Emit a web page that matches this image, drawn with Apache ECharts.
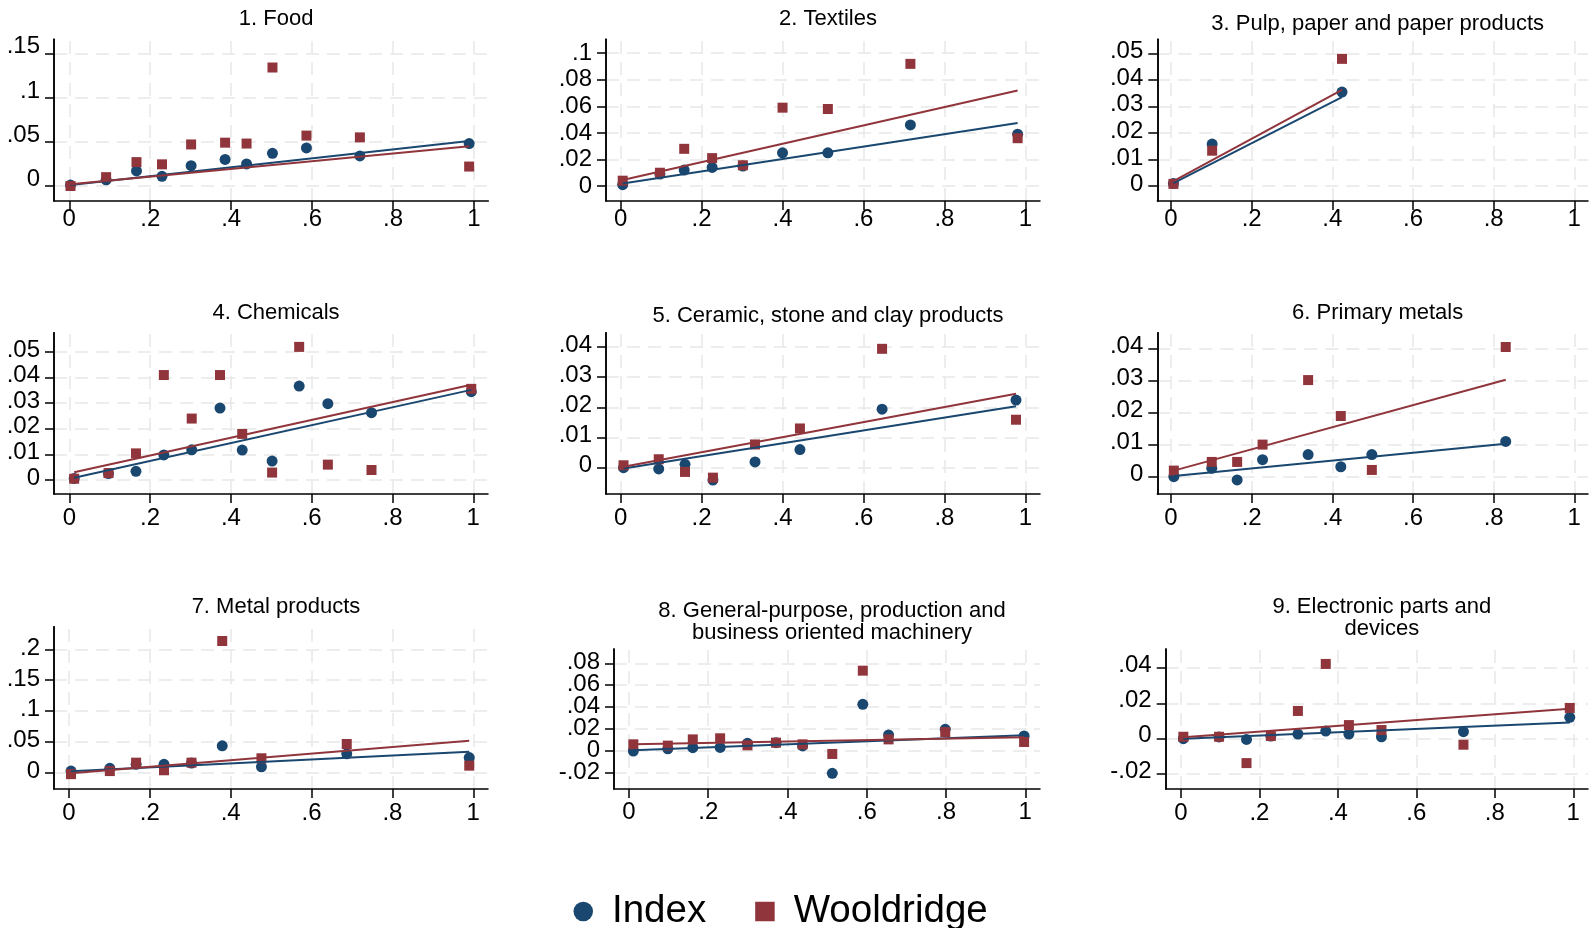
<!DOCTYPE html>
<html>
<head>
<meta charset="utf-8">
<script src="https://cdn.jsdelivr.net/npm/echarts@6/dist/echarts.min.js"></script>
<style>
html,body{margin:0;padding:0;background:#fff;}
#chart{width:1595px;height:928px;}
</style>
</head>
<body>
<div id="chart"></div>
<script>
// ---------- DATA ----------
const titles = [
  '1. Food',
  '2. Textiles',
  '3. Pulp, paper and paper products',
  '4. Chemicals',
  '5. Ceramic, stone and clay products',
  '6. Primary metals',
  '7. Metal products',
  '8. General-purpose, production and\nbusiness oriented machinery',
  '9. Electronic parts and\ndevices'
];
const seriesNames = ['Index', 'Wooldridge'];
const xTicks = [0, 0.2, 0.4, 0.6, 0.8, 1];

const p1YTicks = [0, 0.05, 0.1, 0.15];
const p2YTicks = [0, 0.02, 0.04, 0.06, 0.08, 0.1];
const p3YTicks = [0, 0.01, 0.02, 0.03, 0.04, 0.05];
const p4YTicks = [0, 0.01, 0.02, 0.03, 0.04, 0.05];
const p5YTicks = [0, 0.01, 0.02, 0.03, 0.04];
const p6YTicks = [0, 0.01, 0.02, 0.03, 0.04];
const p7YTicks = [0, 0.05, 0.1, 0.15, 0.2];
const p8YTicks = [-0.02, 0, 0.02, 0.04, 0.06, 0.08];
const p9YTicks = [-0.02, 0, 0.02, 0.04];

const p1Index = [[0.003,0.001],[0.091,0.007],[0.166,0.017],[0.229,0.011],[0.301,0.023],[0.385,0.030],[0.438,0.025],[0.502,0.037],[0.586,0.043],[0.718,0.034],[0.988,0.048]];
const p1Wool  = [[0.003,0.000],[0.091,0.010],[0.166,0.027],[0.229,0.0245],[0.301,0.047],[0.385,0.049],[0.438,0.048],[0.502,0.134],[0.586,0.057],[0.718,0.055],[0.988,0.022]];
const p1IndexFit = [[0.003,0.001],[0.988,0.051]];
const p1WoolFit  = [[0.003,0.002],[0.988,0.045]];

const p2Index = [[0.005,0.001],[0.097,0.009],[0.157,0.012],[0.226,0.014],[0.302,0.015],[0.400,0.025],[0.512,0.025],[0.716,0.046],[0.981,0.039]];
const p2Wool  = [[0.005,0.004],[0.097,0.010],[0.157,0.028],[0.226,0.021],[0.302,0.0156],[0.400,0.059],[0.512,0.058],[0.716,0.092],[0.981,0.036]];
const p2IndexFit = [[0.005,0.0018],[0.981,0.0475]];
const p2WoolFit  = [[0.005,0.0045],[0.981,0.072]];

const p3Index = [[0.006,0.0009],[0.102,0.0158],[0.424,0.0354]];
const p3Wool  = [[0.006,0.0008],[0.102,0.0133],[0.424,0.0479]];
const p3IndexFit = [[0.006,0.0011],[0.424,0.0335]];
const p3WoolFit  = [[0.006,0.0018],[0.424,0.0362]];

const p4Index = [[0.012,0.0006],[0.097,0.0025],[0.165,0.0034],[0.234,0.0098],[0.303,0.0118],[0.373,0.0281],[0.428,0.0117],[0.502,0.0074],[0.569,0.0367],[0.640,0.0298],[0.748,0.0263],[0.995,0.0345]];
const p4Wool  = [[0.012,0.0005],[0.097,0.0027],[0.165,0.0104],[0.234,0.041],[0.303,0.024],[0.373,0.041],[0.428,0.018],[0.502,0.0029],[0.569,0.052],[0.640,0.006],[0.748,0.0039],[0.995,0.0356]];
const p4IndexFit = [[0.012,0.0009],[0.995,0.0352]];
const p4WoolFit  = [[0.012,0.003],[0.995,0.0372]];

const p5Index = [[0.007,0.0],[0.094,-0.0004],[0.159,0.0011],[0.228,-0.0041],[0.332,0.0019],[0.443,0.006],[0.646,0.0194],[0.977,0.0224]];
const p5Wool  = [[0.007,0.0008],[0.094,0.0028],[0.159,-0.0014],[0.228,-0.0033],[0.332,0.0077],[0.443,0.013],[0.646,0.0394],[0.977,0.0159]];
const p5IndexFit = [[0.007,-0.0003],[0.977,0.0204]];
const p5WoolFit  = [[0.007,0.0003],[0.977,0.0245]];

const p6Index = [[0.007,0.0],[0.101,0.0026],[0.164,-0.001],[0.227,0.0053],[0.340,0.0069],[0.421,0.0031],[0.498,0.0069],[0.830,0.011]];
const p6Wool  = [[0.007,0.0019],[0.101,0.0046],[0.164,0.0046],[0.227,0.010],[0.340,0.0301],[0.421,0.0189],[0.498,0.0021],[0.830,0.0404]];
const p6IndexFit = [[0.007,0.0002],[0.830,0.0103]];
const p6WoolFit  = [[0.007,0.0019],[0.830,0.0302]];

const p7Index = [[0.005,0.002],[0.101,0.0065],[0.166,0.013],[0.235,0.013],[0.303,0.015],[0.379,0.043],[0.476,0.009],[0.687,0.030],[0.990,0.024]];
const p7Wool  = [[0.005,-0.003],[0.101,0.002],[0.166,0.0157],[0.235,0.0033],[0.303,0.0157],[0.379,0.2135],[0.476,0.0228],[0.687,0.046],[0.990,0.0108]];
const p7IndexFit = [[0.005,0.0016],[0.990,0.0336]];
const p7WoolFit  = [[0.005,-0.0016],[0.990,0.0515]];

const p8Index = [[0.011,0.0],[0.098,0.002],[0.161,0.003],[0.230,0.0033],[0.299,0.007],[0.371,0.0076],[0.438,0.0046],[0.513,-0.0204],[0.590,0.0426],[0.655,0.0146],[0.798,0.0198],[0.997,0.0137]];
const p8Wool  = [[0.011,0.0061],[0.098,0.0049],[0.161,0.0106],[0.230,0.0116],[0.299,0.0052],[0.371,0.0076],[0.438,0.0061],[0.513,-0.0027],[0.590,0.0733],[0.655,0.0106],[0.798,0.0173],[0.997,0.0082]];
const p8IndexFit = [[0.011,0.0006],[0.997,0.0143]];
const p8WoolFit  = [[0.011,0.0061],[0.997,0.0125]];

const p9Index = [[0.006,0.0],[0.097,0.001],[0.167,-0.0004],[0.229,0.0015],[0.298,0.0026],[0.369,0.0043],[0.428,0.0026],[0.511,0.0011],[0.720,0.004],[0.991,0.0121]];
const p9Wool  = [[0.006,0.0011],[0.097,0.0011],[0.167,-0.0138],[0.229,0.0015],[0.298,0.0157],[0.369,0.0423],[0.428,0.0077],[0.511,0.0049],[0.720,-0.0034],[0.991,0.0174]];
const p9IndexFit = [[0.006,0.0],[0.991,0.0092]];
const p9WoolFit  = [[0.006,0.0008],[0.991,0.017]];

// ---------- LAYOUT (pixels / axis extents / label offsets) ----------
// yl: y-label line height used with bottom alignment (0 = centred on the tick)
const layout = [
  {l:54,    t:39.3,  w:434.3, h:161.7, x:[-0.0378,1.0353], y:[-0.01696,0.1659],  tt:3,     yl:13, xm:6},
  {l:606,   t:39.3,  w:434,   h:161.7, x:[-0.0363,1.0363], y:[-0.0113,0.1105],   tt:3,     yl:0,  xm:6},
  {l:1157.3,t:39.3,  w:430.7, h:161.7, x:[-0.034,1.034],   y:[-0.00565,0.05527], tt:8,     yl:3,  xm:6},
  {l:54,    t:332.7, w:434,   h:161.3, x:[-0.0379,1.0364], y:[-0.00547,0.05754], tt:297.4, yl:4,  xm:12},
  {l:606,   t:332.7, w:434,   h:161.3, x:[-0.0363,1.0363], y:[-0.00872,0.04474], tt:300,   yl:4,  xm:12},
  {l:1157.3,t:332.7, w:430.7, h:161.3, x:[-0.034,1.034],   y:[-0.00539,0.04486], tt:296.7, yl:4.6,xm:12},
  {l:54,    t:626.7, w:434,   h:162.3, x:[-0.0371,1.0364], y:[-0.02715,0.2368],  tt:590.7, yl:2,  xm:12},
  {l:614,   t:649,   w:426,   h:140,   x:[-0.0378,1.0371], y:[-0.03467,0.09307], tt:594.7, yl:2,  xm:11},
  {l:1165.7,t:649,   w:422.3, h:140,   x:[-0.039,1.0375],  y:[-0.02846,0.05075], tt:590.7, yl:6,  xm:12}
];

const panelIdx = [p1Index,p2Index,p3Index,p4Index,p5Index,p6Index,p7Index,p8Index,p9Index];
const panelWool = [p1Wool,p2Wool,p3Wool,p4Wool,p5Wool,p6Wool,p7Wool,p8Wool,p9Wool];
const panelIdxFit = [p1IndexFit,p2IndexFit,p3IndexFit,p4IndexFit,p5IndexFit,p6IndexFit,p7IndexFit,p8IndexFit,p9IndexFit];
const panelWoolFit = [p1WoolFit,p2WoolFit,p3WoolFit,p4WoolFit,p5WoolFit,p6WoolFit,p7WoolFit,p8WoolFit,p9WoolFit];
const panelYTicks = [p1YTicks,p2YTicks,p3YTicks,p4YTicks,p5YTicks,p6YTicks,p7YTicks,p8YTicks,p9YTicks];

const BLUE = '#1a476f', RED = '#90353b';
const FONT = 'Liberation Sans, Arial, sans-serif';
function fmt(v){ return String(v).replace(/^(-?)0\./, '$1.'); }

const grids = [], xAxes = [], yAxes = [], series = [], titleArr = [];
const axisLineStyle = {color:'#000', width:1.5};
function yAxisDef(i, L, ticks){
  const lbl = L.yl > 0
    ? {lineHeight:L.yl, verticalAlign:'bottom'}
    : {lineHeight:24, verticalAlign:'middle'};
  return {
    type:'value', gridIndex:i, position:'left', offset:0, min:L.y[0], max:L.y[1], z:6,
    axisLine:{show:true, onZero:false, lineStyle:axisLineStyle},
    axisTick:{show:true, length:9, inside:false, customValues:ticks, lineStyle:axisLineStyle},
    axisLabel:Object.assign({customValues:ticks, formatter:fmt, color:'#000', fontSize:24, fontFamily:FONT, margin:14,
      showMinLabel:true, showMaxLabel:true, hideOverlap:false}, lbl),
    splitLine:{show:false}
  };
}
layout.forEach((L, i) => {
  grids.push({left:L.l, top:L.t, width:L.w, height:L.h, containLabel:false});
  xAxes.push({
    type:'value', gridIndex:i, min:L.x[0], max:L.x[1], z:6,
    axisLine:{show:true, onZero:false, lineStyle:axisLineStyle},
    axisTick:{show:true, length:9, inside:false, customValues:xTicks, lineStyle:axisLineStyle},
    axisLabel:{customValues:xTicks, formatter:fmt, color:'#000', fontSize:24, fontFamily:FONT, margin:L.xm, lineHeight:24,
      showMinLabel:true, showMaxLabel:true, hideOverlap:false},
    splitLine:{show:false}
  });
  // y tick labels are split over two coincident axes so that close labels are never dropped
  const yt = panelYTicks[i];
  const ya = yAxes.length;
  yAxes.push(yAxisDef(i, L, yt.filter((v, k) => k % 2 === 0)));
  yAxes.push(yAxisDef(i, L, yt.filter((v, k) => k % 2 === 1)));
  titleArr.push({
    text:titles[i], left:L.l + L.w/2, top:L.tt, textAlign:'center',
    textStyle:{fontSize:22, fontWeight:'normal', color:'#000', fontFamily:FONT, lineHeight:22}
  });
  // grid lines at the tick values, drawn through the library's scales
  series.push({type:'scatter', name:'grid', xAxisIndex:i, yAxisIndex:ya, data:[], silent:true, z:1,
    markLine:{silent:true, symbol:'none', label:{show:false}, animation:false, z:1,
      lineStyle:{color:'#e8e8e8', width:1.5, type:[13,8]},
      emphasis:{disabled:true},
      data:[...xTicks.map(v => ({xAxis:v})), ...yt.map(v => ({yAxis:v}))]}
  });
  series.push({type:'scatter', name:seriesNames[0], xAxisIndex:i, yAxisIndex:ya, data:panelIdx[i],
    symbol:'circle', symbolSize:11, itemStyle:{color:BLUE, opacity:1}, z:2});
  series.push({type:'scatter', name:seriesNames[1], xAxisIndex:i, yAxisIndex:ya, data:panelWool[i],
    symbol:'rect', symbolSize:10, itemStyle:{color:RED, opacity:1}, z:3});
  series.push({type:'line', name:'Index fit', xAxisIndex:i, yAxisIndex:ya, data:panelIdxFit[i],
    symbol:'none', lineStyle:{color:BLUE, width:2}, itemStyle:{color:BLUE}, z:4, silent:true});
  series.push({type:'line', name:'Wooldridge fit', xAxisIndex:i, yAxisIndex:ya, data:panelWoolFit[i],
    symbol:'none', lineStyle:{color:RED, width:2}, itemStyle:{color:RED}, z:5, silent:true});
});

const chart = echarts.init(document.getElementById('chart'), null, {renderer:'canvas'});
chart.setOption({
  animation:false,
  backgroundColor:'#fff',
  title:titleArr,
  grid:grids,
  xAxis:xAxes,
  yAxis:yAxes,
  legend:{
    data:[{name:seriesNames[0], icon:'circle', itemStyle:{color:BLUE}}, {name:seriesNames[1], icon:'rect', itemStyle:{color:RED}}],
    left:573.5, top:887, padding:0, itemWidth:19.5, itemHeight:19.5, itemGap:49,
    textStyle:{fontSize:38.5, color:'#000', fontFamily:FONT, lineHeight:38, padding:[0,0,11,14]}
  },
  series:series
});
</script>
</body>
</html>
